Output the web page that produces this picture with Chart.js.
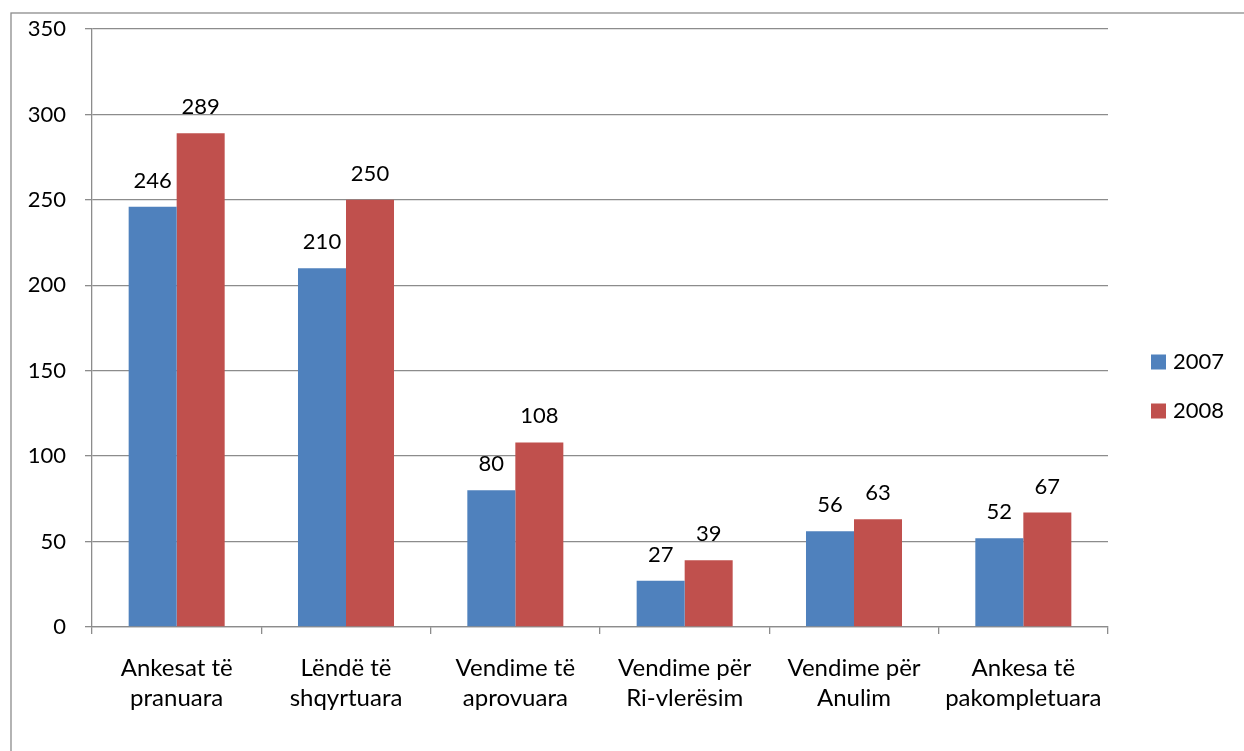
<!DOCTYPE html>
<html>
<head>
<meta charset="utf-8">
<script src="https://cdn.jsdelivr.net/npm/chart.js@4/dist/chart.umd.min.js"></script>
<style>
  html, body { margin: 0; padding: 0; background: #fff; }
  #wrap { width: 1244px; height: 751px; position: relative; }
</style>
</head>
<body>
<div id="wrap"><canvas id="c" width="1244" height="751"></canvas></div>
<script>
const categories = [
  ['Ankesat të', 'pranuara'],
  ['Lëndë të', 'shqyrtuara'],
  ['Vendime të', 'aprovuara'],
  ['Vendime për', 'Ri-vlerësim'],
  ['Vendime për', 'Anulim'],
  ['Ankesa të', 'pakompletuara']
];
const seriesNames = ['2007', '2008'];
const values2007 = [246, 210, 80, 27, 56, 52];
const values2008 = [289, 250, 108, 39, 63, 67];
const yTicks = [0, 50, 100, 150, 200, 250, 300, 350];
const colors = ['#4F81BD', '#C0504D'];

const FONT = 'Lato';
const GRID = '#8c8c8c';

const framePlugin = {
  id: 'frame',
  beforeDraw(chart) {
    const ctx = chart.ctx;
    ctx.save();
    ctx.fillStyle = '#fff';
    ctx.fillRect(0, 0, chart.width, chart.height);
    ctx.strokeStyle = GRID;
    ctx.lineWidth = 1.3;
    ctx.strokeRect(11, 13, chart.width + 50, chart.height + 50);
    ctx.restore();
  }
};

const labelPlugin = {
  id: 'valueLabels',
  afterDatasetsDraw(chart) {
    const ctx = chart.ctx;
    ctx.save();
    ctx.font = '22px ' + FONT;
    ctx.fillStyle = '#000';
    ctx.textAlign = 'center';
    ctx.textBaseline = 'alphabetic';
    chart.data.datasets.forEach((ds, i) => {
      const meta = chart.getDatasetMeta(i);
      meta.data.forEach((bar, j) => {
        ctx.fillText(String(ds.data[j]), bar.x, bar.y - 19);
      });
    });
    ctx.restore();
  }
};

const legendPlugin = {
  id: 'customLegend',
  afterDraw(chart) {
    const ctx = chart.ctx;
    ctx.save();
    ctx.font = '22px ' + FONT;
    ctx.textBaseline = 'middle';
    ctx.textAlign = 'left';
    chart.data.datasets.forEach((ds, i) => {
      const cy = 362 + i * 49;
      ctx.fillStyle = ds.backgroundColor;
      ctx.fillRect(1151, cy - 7.5, 15, 15);
      ctx.fillStyle = '#000';
      ctx.fillText(ds.label, 1173, cy);
    });
    ctx.restore();
  }
};

new Chart(document.getElementById('c'), {
  type: 'bar',
  data: {
    labels: categories,
    datasets: [
      { label: seriesNames[0], data: values2007, backgroundColor: colors[0] },
      { label: seriesNames[1], data: values2008, backgroundColor: colors[1] }
    ]
  },
  options: {
    responsive: false,
    animation: false,
    devicePixelRatio: 1,
    layout: { padding: { top: 29, right: 136, bottom: 0, left: 0 } },
    datasets: { bar: { categoryPercentage: 0.567, barPercentage: 1.0 } },
    plugins: {
      legend: { display: false },
      tooltip: { enabled: false }
    },
    scales: {
      x: {
        grid: { drawOnChartArea: false, drawTicks: true, tickLength: 7, color: GRID, lineWidth: 1.3, offset: true },
        border: { color: GRID, width: 1.3 },
        ticks: { color: '#000', padding: 19, font: { family: FONT, size: 24, lineHeight: 1.25 }, maxRotation: 0, autoSkip: false },
        afterFit(s) { s.height = 124; }
      },
      y: {
        min: 0,
        max: 350,
        afterBuildTicks(s) { s.ticks = yTicks.map(v => ({ value: v })); },
        ticks: { color: '#000', padding: 19, font: { family: FONT, size: 22 } },
        grid: { color: GRID, lineWidth: 1.3, tickLength: 7 },
        border: { color: GRID, width: 1.3 },
        afterFit(s) { s.width = 92; s.paddingTop = 0; s.paddingBottom = 0; }
      }
    }
  },
  plugins: [framePlugin, labelPlugin, legendPlugin]
});
</script>
</body>
</html>
